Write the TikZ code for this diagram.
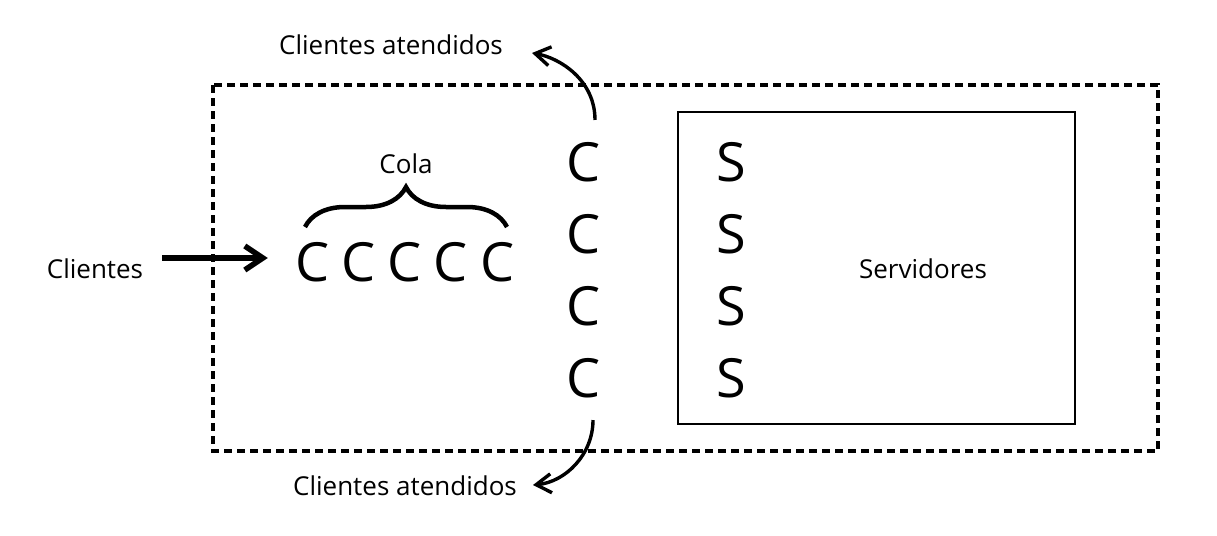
\documentclass[tikz,border=0pt]{standalone}
\usepackage{fontspec}
\setmainfont{Open Sans}
\usepackage{tikz}
\usetikzlibrary{calc}
\usetikzlibrary{arrows.meta}
\usetikzlibrary{decorations.pathreplacing}

\tikzset{
    label/.style = {inner sep = 0pt, font = \fontsize{26}{30}\selectfont},
    big/.style = {inner sep = 0pt, font = \fontsize{54}{60}\selectfont},
    served/.style = {line width = 3.4pt, -{Straight Barb[length=15pt, width=19pt, line width=3.4pt]}},
}

\begin{document}
\begin{tikzpicture}[x = 1pt, y = -1pt]
    \useasboundingbox (0,0) rectangle (1217,535);
    % system and server boxes
    \draw[line width = 3.4pt, dash pattern = on 8pt off 5pt] (213,85) rectangle (1158,451);
    \draw[line width = 2pt] (678,112) rectangle (1075,424);
    \node[label] (clientes) at (95,269) {Clientes};
    \node[label] (cola) at (406,164) {Cola};
    \node[label] (servidores) at (923,269) {Servidores};
    \node[label] (outup) at (391,45) {Clientes atendidos};
    \node[label] (outdown) at (405,486) {Clientes atendidos};
    \foreach \i/\x in {1/313,2/359,3/405,4/451,5/498}
        \node[big] (q\i) at (\x,262) {C};
    \foreach \i/\y in {1/162,2/234,3/306,4/378} {
        \node[big] (c\i) at (584,\y) {C};
        \node[big] (s\i) at (731,\y) {S};
    }
    \draw[decorate, decoration = {brace, amplitude = 40pt}, line width = 4.5pt] (305,227) -- (507,227);
    \draw[line width = 5.5pt, -{Straight Barb[length=18pt, width=24pt, line width=5.5pt]}]
        ($(clientes.east)+(19,-11)$) -- ($(q1.west)+(-28,-4)$);
    \coordinate (tipup) at (532,53);
    \coordinate (tipdown) at (533,485);
    \draw[served] ($(c1.north)+(11,-22)$) .. controls (595,80) and (560,58) .. (tipup);
    \draw[served] ($(c4.south)+(9,22)$) .. controls (593,455) and (565,482) .. (tipdown);
\end{tikzpicture}
\end{document}
